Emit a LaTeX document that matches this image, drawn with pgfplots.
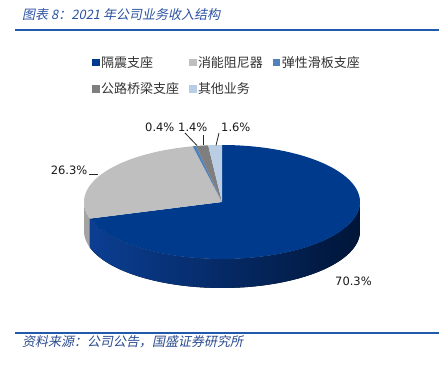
\documentclass[border=0pt]{standalone}
\usepackage{pgfplots}
\pgfplotsset{compat=1.18}
\usepackage{pgfplotstable}
\usepgfplotslibrary{fillbetween}
\usepackage{fontspec}
\setmainfont{DejaVu Sans}
\newfontfamily\cjk{Noto Sans CJK SC}
\newfontfamily\cjkit[FakeSlant=0.2]{Noto Sans CJK SC}
\newfontfamily\numf{DejaVu Sans}
\definecolor{cA}{HTML}{003A8C}
\definecolor{cAsideL}{HTML}{0B3E92}
\definecolor{cAsideR}{HTML}{001538}
\definecolor{cB}{HTML}{BFBFBF}
\definecolor{cBside}{HTML}{A3A3A3}
\definecolor{cC}{HTML}{4F81BD}
\definecolor{cD}{HTML}{7F7F7F}
\definecolor{cE}{HTML}{B9CDE5}
\definecolor{titleblue}{HTML}{2B52A3}
\definecolor{rulecol}{HTML}{1F5BAA}
\definecolor{footblue}{HTML}{2A4C8E}
\definecolor{legtext}{HTML}{333333}

\pgfplotstableread{
name value
隔震支座 70.3
消能阻尼器 26.3
弹性滑板支座 0.4
公路桥梁支座 1.4
其他业务 1.6
}\piedata

\begin{document}
\begin{tikzpicture}
\pgfplotstablegetelem{0}{value}\of\piedata \let\vA\pgfplotsretval
\pgfplotstablegetelem{1}{value}\of\piedata \let\vB\pgfplotsretval
\pgfplotstablegetelem{2}{value}\of\piedata \let\vC\pgfplotsretval
\pgfplotstablegetelem{3}{value}\of\piedata \let\vD\pgfplotsretval
\pgfplotstablegetelem{4}{value}\of\piedata \let\vE\pgfplotsretval
\pgfmathsetmacro\aA{90-3.6*\vA}
\pgfmathsetmacro\aB{\aA-3.6*\vB}
\pgfmathsetmacro\aC{\aB-3.6*\vC}
\pgfmathsetmacro\aD{\aC-3.6*\vD}
\pgfmathsetmacro\aE{\aD-3.6*\vE}
\begin{axis}[
  name=main,
  scale only axis, width=448pt, height=365pt,
  xmin=0, xmax=448, ymin=0, ymax=365, y dir=reverse,
  hide axis, clip=false,
  legend columns=3,
  legend cell align=left,
  legend image code/.code={\fill[#1] (0pt,-3pt) rectangle (6.5pt,3.5pt);},
  legend style={draw=none, fill=none, at={(axis cs:92,54)}, anchor=north west,
    font=\cjk\fontsize{13}{15}\selectfont, text=legtext,
    inner sep=0pt, row sep=10pt,
    /tikz/every even column/.append style={column sep=8pt}},
]
% legend
\addlegendimage{cA}\addlegendentry{隔震支座}
\addlegendimage{cB}\addlegendentry{消能阻尼器}
\addlegendimage{cC}\addlegendentry{弹性滑板支座}
\addlegendimage{cD}\addlegendentry{公路桥梁支座}
\addlegendimage{cE}\addlegendentry{其他业务}
% side walls
\addplot[name path=gT, draw=none, domain=-180:\aA, samples=20, forget plot] ({222+138*cos(x)},{202-57*sin(x)});
\addplot[name path=gB, draw=none, domain=-180:\aA, samples=20, forget plot] ({222+138*cos(x)},{231-57*sin(x)});
\addplot[fill=cBside, draw=none, forget plot] fill between[of=gT and gB];
\addplot[name path=bT, draw=none, domain=\aA:0, samples=100, forget plot] ({222+138*cos(x)},{202-57*sin(x)});
\addplot[name path=bB, draw=none, domain=\aA:0, samples=100, forget plot] ({222+138*cos(x)},{231-57*sin(x)});
\addplot[left color=cAsideL, right color=cAsideR, draw=none, forget plot] fill between[of=bT and bB];
% top face
\addplot[fill=cA, draw=none, domain=\aA:90, samples=150, forget plot] ({222+138*cos(x)},{202-57*sin(x)}) -- (axis cs:222,202) -- cycle;
\addplot[fill=cB, draw=none, domain=\aB:\aA, samples=60, forget plot] ({222+138*cos(x)},{202-57*sin(x)}) -- (axis cs:222,202) -- cycle;
\addplot[fill=cC, draw=none, domain=\aC:\aB, samples=5, forget plot] ({222+138*cos(x)},{202-57*sin(x)}) -- (axis cs:222,202) -- cycle;
\addplot[fill=cD, draw=none, domain=\aD:\aC, samples=5, forget plot] ({222+138*cos(x)},{202-57*sin(x)}) -- (axis cs:222,202) -- cycle;
\addplot[fill=cE, draw=none, domain=\aE:\aD, samples=5, forget plot] ({222+138*cos(x)},{202-57*sin(x)}) -- (axis cs:222,202) -- cycle;
% leader lines
\draw[black!85, line width=0.8pt] (axis cs:89,174) -- (axis cs:98,174);
\draw[black!85, line width=0.8pt] (axis cs:185,133) -- (axis cs:197,145.5);
\draw[black!85, line width=0.8pt] (axis cs:203,135) -- (axis cs:203,145.5);
\draw[black!85, line width=0.8pt] (axis cs:219,133) -- (axis cs:216,145.5);
% labels
\begin{scope}[every node/.style={font=\numf\fontsize{11.5}{13}\selectfont, text=black!90, inner sep=0pt}]
\node[anchor=east] at (axis cs:87.5,170) {\vB\%};
\node[anchor=west] at (axis cs:145,127) {\vC\%};
\node[anchor=west] at (axis cs:178,127) {\vD\%};
\node[anchor=west] at (axis cs:221,127) {\vE\%};
\node[anchor=west] at (axis cs:335,281) {\vA\%};
\end{scope}
% title, rules, source
\node[anchor=west, inner sep=0pt, text=titleblue, font=\cjkit\fontsize{13}{15}\selectfont] at (axis cs:22,15) {图表 8：2021 年公司业务收入结构};
\draw[rulecol, line width=1.5pt] (axis cs:15,30) -- (axis cs:439,30);
\draw[rulecol, line width=1.5pt] (axis cs:15,333) -- (axis cs:439,333);
\node[anchor=west, inner sep=0pt, text=footblue, font=\cjkit\fontsize{13}{15}\selectfont] at (axis cs:22,342) {资料来源：公司公告，国盛证券研究所};
\end{axis}
\pgfresetboundingbox
\path (main.south west) rectangle (main.north east);
\end{tikzpicture}
\end{document}
